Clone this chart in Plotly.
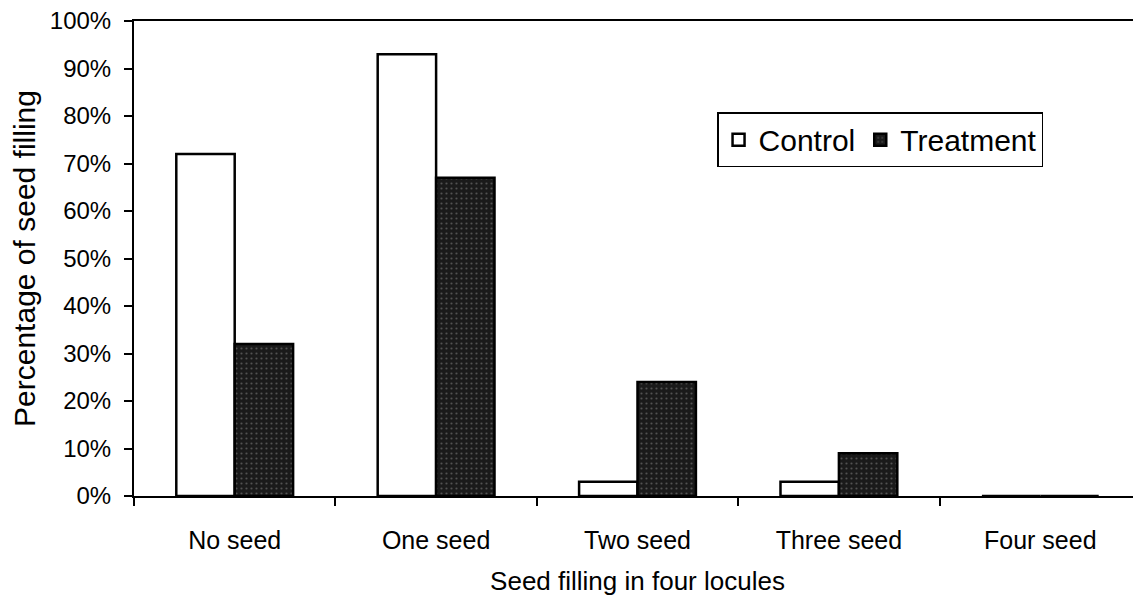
import plotly.graph_objects as go

categories = ["No seed", "One seed", "Two seed", "Three seed", "Four seed"]
control = [0.72, 0.93, 0.03, 0.03, 0.0]
treatment = [0.32, 0.67, 0.24, 0.09, 0.0]
y_ticks = [i / 10 for i in range(11)]

fig = go.Figure()
fig.add_trace(go.Bar(x=categories, y=control, name="Control",
                     marker=dict(color="white", line=dict(color="black", width=2.5))))
fig.add_trace(go.Bar(x=categories, y=treatment, name="Treatment",
                     marker=dict(color="#262626", line=dict(color="black", width=2.5),
                                 pattern=dict(shape=".", fgcolor="#8a8a8a", bgcolor="#1a1a1a",
                                              size=5, solidity=0.15))))

font_family = "Liberation Sans, Arial, sans-serif"
fig.update_layout(
    width=1133, height=589,
    margin=dict(l=126, r=0, t=13, b=101),
    paper_bgcolor="white", plot_bgcolor="white",
    barmode="group", bargap=0.42, bargroupgap=0,
    font=dict(family=font_family, color="black", size=22),
    showlegend=True,
    legend=dict(orientation="h", x=0.579, y=0.808, xanchor="left", yanchor="top",
                bordercolor="black", borderwidth=1.5, bgcolor="white",
                font=dict(size=30, family=font_family), itemwidth=30,
                traceorder="normal"),
    xaxis=dict(type="category", showline=True, linecolor="black", linewidth=2,
               mirror=True, ticks="outside", tickson="boundaries", ticklen=8,
               tickcolor="black", tickwidth=1.5, showgrid=False, automargin=False,
               tickfont=dict(size=25), ticklabelstandoff=21,
               title=dict(text="Seed filling in four locules",
                          font=dict(size=26), standoff=19)),
    yaxis=dict(range=[0, 1], tickvals=y_ticks, tickformat=".0%", showline=True,
               linecolor="black", linewidth=2, ticks="outside", ticklen=8,
               tickcolor="black", tickwidth=1.5, showgrid=False, zeroline=False,
               automargin=False, tickfont=dict(size=24), ticklabelstandoff=8,
               ticklabeloverflow="allow",
               title=dict(text="Percentage of seed filling", font=dict(size=30),
                          standoff=5)),
)
fig.write_html("out.html")
